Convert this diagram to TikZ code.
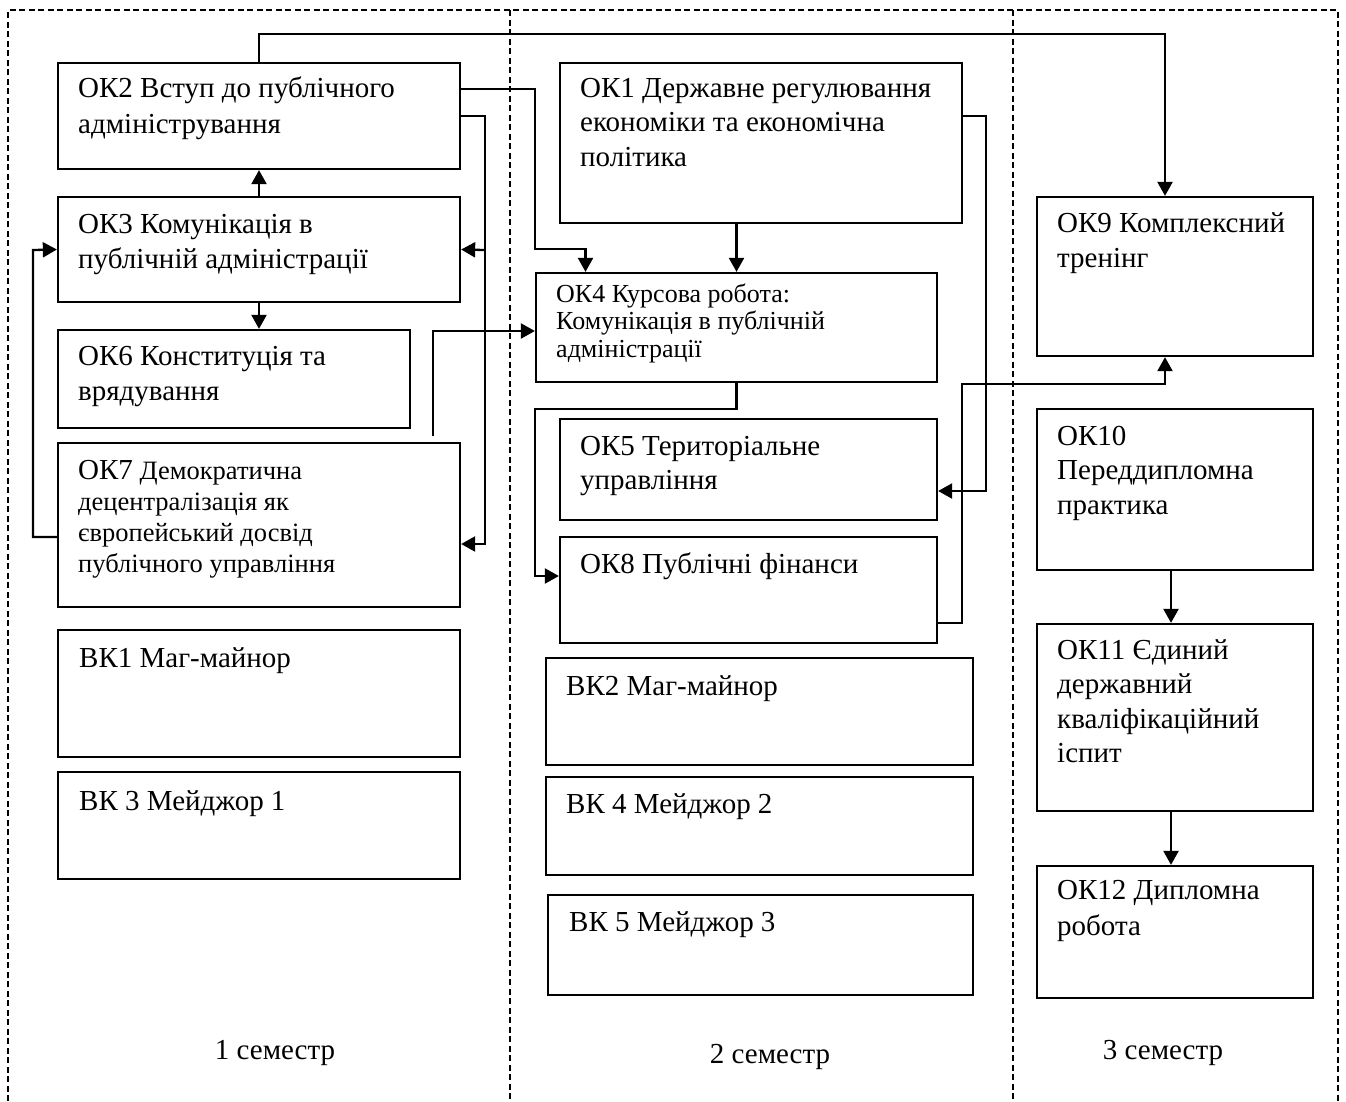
\documentclass[tikz,border=0pt]{standalone}
\usepackage{fontspec}
\setmainfont{Liberation Serif}
\usetikzlibrary{fit,arrows.meta}
\AtBeginDocument{\lineskiplimit=-1000pt}
\begin{document}
\begin{tikzpicture}[x=1pt,y=-1pt,
 box/.style={draw,line width=2.3pt,inner sep=0pt,rectangle},
 txt/.style={anchor=north west,inner sep=0pt,align=left,font=\fontsize{29}{35}\selectfont},
 sem/.style={inner sep=0pt,font=\fontsize{29}{33}\selectfont},
 col/.style={line width=1.6pt,dash pattern=on 6pt off 3.5pt},
 con/.style={line width=2.3pt},
 arr/.style={con,-{Triangle[length=14pt,width=15pt]}},
]
\useasboundingbox (0,0) rectangle (1346,1101);
\fill[white] (0,0) rectangle (1346,1101);
% semester columns
\draw[col] (8,1101) -- (8,10) -- (1338,10) -- (1338,1101);
\draw[col] (510,10) -- (510,1101);
\draw[col] (1013,10) -- (1013,1101);
% boxes
\node[box,fit={(58,63)(460,169)}] (ok2) {};
\node[box,fit={(58,197)(460,302)}] (ok3) {};
\node[box,fit={(58,330)(410,428)}] (ok6) {};
\node[box,fit={(58,443)(460,607)}] (ok7) {};
\node[box,fit={(58,630)(460,757)}] (vk1) {};
\node[box,fit={(58,772)(460,879)}] (vk3) {};
\node[box,fit={(560,63)(962,223)}] (ok1) {};
\node[box,fit={(536,273)(937,382)}] (ok4) {};
\node[box,fit={(560,419)(937,520)}] (ok5) {};
\node[box,fit={(560,537)(937,643)}] (ok8) {};
\node[box,fit={(546,658)(973,765)}] (vk2) {};
\node[box,fit={(546,777)(973,875)}] (vk4) {};
\node[box,fit={(548,895)(973,995)}] (vk5) {};
\node[box,fit={(1037,197)(1313,356)}] (ok9) {};
\node[box,fit={(1037,409)(1313,570)}] (ok10) {};
\node[box,fit={(1037,624)(1313,811)}] (ok11) {};
\node[box,fit={(1037,866)(1313,998)}] (ok12) {};
% texts (node top = first baseline - 28)
\node[txt,font=\fontsize{29}{36}\selectfont] (ok2t) at (78,69) {\rule{0pt}{28pt}ОК2 Вступ до публічного\\адміністрування};
\node[txt] (ok3t) at (78,205) {\rule{0pt}{28pt}ОК3 Комунікація в\\публічній адміністрації};
\node[txt] (ok6t) at (78,337) {\rule{0pt}{28pt}ОК6 Конституція та\\врядування};
\node[txt,font=\fontsize{26.5}{31}\selectfont] (ok7t) at (78,451) {\rule{0pt}{28pt}{\fontsize{29}{31}\selectfont ОК7} Демократична\\децентралізація як\\європейський досвід\\публічного управління};
\node[txt] (vk1t) at (79,639) {\rule{0pt}{28pt}ВК1 Маг-майнор};
\node[txt] (vk3t) at (79,782) {\rule{0pt}{28pt}ВК 3 Мейджор 1};
\node[txt,font=\fontsize{29}{34.5}\selectfont] (ok1t) at (580,69) {\rule{0pt}{28pt}ОК1 Державне регулювання\\економіки та економічна\\політика};
\node[txt,font=\fontsize{26}{27.5}\selectfont] (ok4t) at (556,274) {\rule{0pt}{28pt}ОК4 Курсова робота:\\Комунікація в публічній\\адміністрації};
\node[txt,font=\fontsize{29}{34}\selectfont] (ok5t) at (580,427) {\rule{0pt}{28pt}ОК5 Територіальне\\управління};
\node[txt] (ok8t) at (580,545) {\rule{0pt}{28pt}ОК8 Публічні фінанси};
\node[txt] (vk2t) at (566,667) {\rule{0pt}{28pt}ВК2 Маг-майнор};
\node[txt] (vk4t) at (566,785) {\rule{0pt}{28pt}ВК 4 Мейджор 2};
\node[txt] (vk5t) at (569,903) {\rule{0pt}{28pt}ВК 5 Мейджор 3};
\node[txt,font=\fontsize{29}{35}\selectfont] (ok9t) at (1057,204) {\rule{0pt}{28pt}ОК9 Комплексний\\тренінг};
\node[txt,font=\fontsize{29}{34.5}\selectfont] (ok10t) at (1057,417) {\rule{0pt}{28pt}ОК10\\Переддипломна\\практика};
\node[txt,font=\fontsize{29}{34.5}\selectfont] (ok11t) at (1057,631) {\rule{0pt}{28pt}ОК11 Єдиний\\державний\\кваліфікаційний\\іспит};
\node[txt,font=\fontsize{29}{36}\selectfont] (ok12t) at (1057,871) {\rule{0pt}{28pt}ОК12 Дипломна\\робота};
% semester labels
\node[sem] (s1) at (275,1053) {1 семестр};
\node[sem] (s2) at (770,1057) {2 семестр};
\node[sem] (s3) at (1163,1053) {3 семестр};
% connectors
\draw[arr] (ok2.north) -- ++(0,-28) -| ([xshift=-10pt]ok9.north);
\draw[arr] ([yshift=27pt]ok2.east) -| (535,249) -| ([xshift=-151pt]ok4.north);
\draw[arr] (ok2.east) -| (485,544) -- ([yshift=-19pt]ok7.east);
\coordinate (j1) at (485,250);
\draw[arr] (j1) -- (ok3.east);
\draw[arr] (ok3.north) -- (ok2.south);
\draw[arr] (ok3.south) -- (ok3.south |- ok6.north);
\draw[arr] ([yshift=-12pt]ok7.west) -| (33,250) -- (ok3.west);
\draw[arr] ([xshift=174pt,yshift=6pt]ok7.north) |- ([yshift=-3.5pt]ok4.west);
\draw[arr] (ok4.north |- ok1.south) -- (ok4.north);
\draw[arr] ([yshift=27pt]ok1.east) -| (986,491) -- ([yshift=-21.5pt]ok5.east);
\draw[arr] (ok4.south) |- (535,409) |- ([yshift=14pt]ok8.west);
\draw[arr] ([yshift=-33pt]ok8.east) -| (962,384) -| ([xshift=-10pt]ok9.south);
\draw[arr] ([xshift=-4pt]ok10.south) -- ([xshift=-4pt]ok11.north);
\draw[arr] ([xshift=-4pt]ok11.south) -- ([xshift=-4pt]ok12.north);
\end{tikzpicture}
\end{document}
